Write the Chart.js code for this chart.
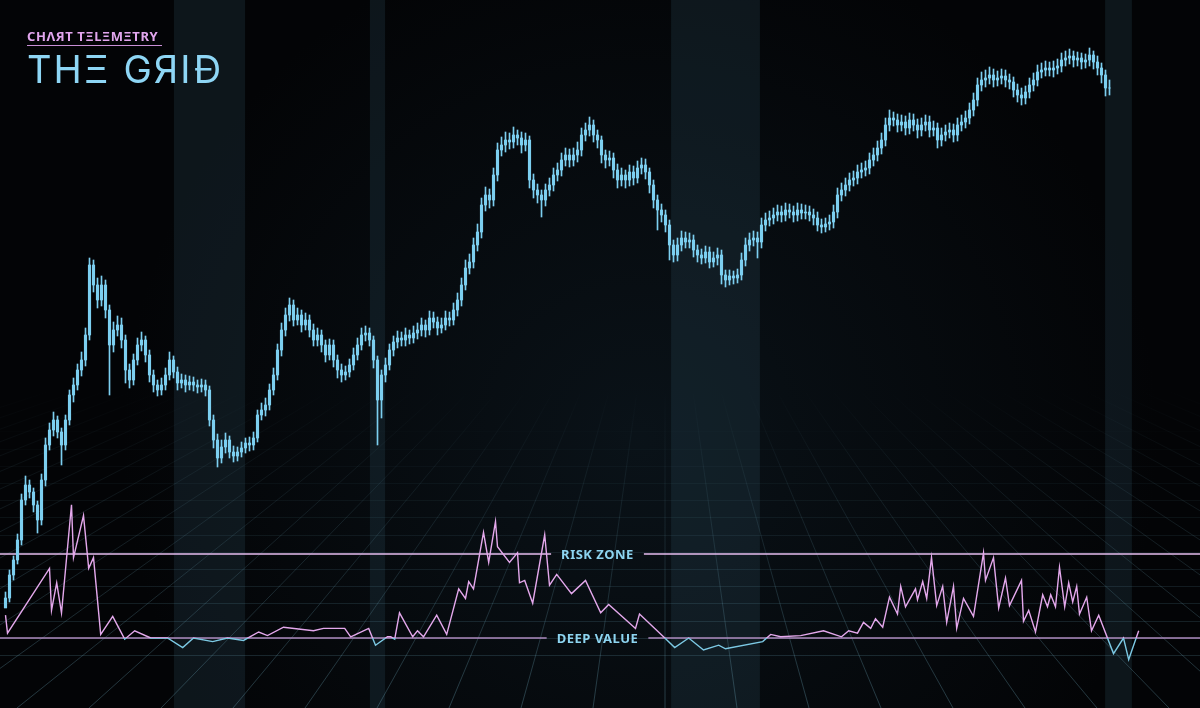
<!DOCTYPE html>
<html>
<head>
<meta charset="utf-8">
<script src="https://cdn.jsdelivr.net/npm/chart.js@4.4.1/dist/chart.umd.min.js"></script>
<style>
  html, body { margin: 0; padding: 0; background: #030406; }
  #wrap { position: relative; width: 1200px; height: 708px; overflow: hidden; }
  #chart { position: absolute; left: 0; top: 0; }
  #logo { position: absolute; left: 27px; top: 27px; }
  #logo .sub {
    display: inline-block;
    font-family: "Noto Sans", sans-serif; font-weight: 700; font-size: 13px;
    letter-spacing: 0.6px; color: #e2a6ee; line-height: 15px;
    border-bottom: 1.5px solid #c98fd6; padding-right: 4px; padding-bottom: 1px;
  }
  #logo .title {
    font-family: "Inter", sans-serif; font-weight: 400; font-size: 38px;
    letter-spacing: 2px; color: #8ed6f5; line-height: 40px; margin-top: 3px;
  }
</style>
</head>
<body>
<div id="wrap">
  <canvas id="chart" width="1200" height="708"></canvas>
  <div id="logo">
    <div class="sub">CHΛЯT TΞLΞMΞTRY</div>
    <div class="title">THΞ GЯIĐ</div>
  </div>
</div>
<script>
// Świece: zamknięcia, maksima, minima (otwarcie = poprzednie zamknięcie)
const firstOpen = 100;
const closes = [
  110,133,148,168,208,223,216,203,188,228, 263,278,288,276,263,288,313,323,338,348,
  373,443,423,408,423,398,363,378,383,368, 338,328,348,363,368,353,333,323,318,323,
  333,348,336,325,328,323,326,323,321,323, 318,288,268,250,261,268,256,252,256,260,
  265,263,270,293,298,303,318,333,358,378, 393,403,388,393,383,388,378,368,373,363,
  353,363,348,338,333,336,343,353,363,373, 375,368,348,308,333,343,358,366,370,368,
  373,370,375,378,383,378,390,386,380,383, 390,388,398,408,423,440,446,463,476,503,
  513,508,533,558,563,568,566,573,570,563, 568,528,518,513,508,518,523,533,538,548,
  553,548,553,558,573,578,583,573,568,553, 548,550,538,528,533,528,536,530,540,543,
  536,523,508,498,493,483,463,453,463,470, 466,468,458,453,450,456,446,450,453,433,
  428,432,430,433,448,463,468,470,466,483, 488,490,493,496,493,498,496,493,498,495,
  496,493,490,483,481,484,486,496,513,518, 523,528,530,536,538,540,548,553,560,568,
  583,590,588,583,586,580,588,583,578,583, 586,578,580,568,573,576,578,573,583,586,
  590,598,608,623,628,630,633,628,630,632, 628,626,618,613,610,616,623,628,636,638,
  640,638,640,642,648,650,652,648,650,646, 648,653,646,640,633,620,620
];
const highs = [
  116,138,152,174,214,232,228,220,207,234, 270,285,296,292,280,293,318,330,344,356,
  380,450,448,430,432,428,403,386,392,390, 373,344,354,370,376,372,358,338,328,330,
  340,356,352,341,334,333,332,331,328,329, 328,322,293,274,268,275,272,262,261,266,
  270,271,276,298,305,310,324,340,364,385, 400,410,408,400,398,395,393,384,380,378,
  368,369,368,353,344,342,349,360,370,380, 382,380,372,352,338,350,364,372,377,376,
  380,378,382,385,390,388,397,396,391,390, 397,396,405,415,430,448,454,470,484,510,
  521,519,540,565,571,576,575,581,578,576, 575,572,534,524,518,524,530,540,545,555,
  560,559,560,566,580,585,591,588,578,572, 558,557,555,544,540,538,543,542,547,550,
  549,540,528,513,504,498,488,468,470,477, 476,475,473,463,459,462,461,456,460,458,
  438,438,437,439,455,470,475,477,476,490, 495,497,500,503,502,505,504,502,505,504,
  503,502,499,496,489,490,493,503,520,525, 530,535,537,543,545,547,555,560,567,575,
  590,598,596,594,593,592,595,594,589,590, 593,592,587,585,580,583,585,584,590,593,
  597,605,615,630,636,638,641,639,637,639, 638,634,631,624,620,622,630,635,643,645,
  647,646,647,649,655,657,659,657,656,655, 654,660,657,652,645,638,628
];
const lows = [
  103,106,128,144,163,203,210,196,175,183, 222,258,272,270,243,258,283,306,318,332,
  342,368,416,400,402,390,313,356,372,360, 325,320,323,343,357,346,326,316,312,313,
  318,328,330,318,320,316,318,317,315,316, 312,282,260,241,245,255,250,246,247,251,
  255,257,258,266,288,292,298,313,328,352, 372,387,382,383,376,378,371,362,362,356,
  346,348,341,330,326,328,331,338,348,358, 367,362,340,263,290,326,338,352,360,362,
  362,364,365,369,372,371,373,380,373,375, 378,382,383,392,402,418,434,440,457,470,
  497,500,502,527,552,556,559,560,563,555, 557,520,510,505,491,502,512,517,527,532,
  542,541,542,546,552,567,572,566,560,545, 540,542,530,520,522,520,522,523,525,534,
  529,515,500,478,486,476,448,446,447,457, 460,460,451,446,444,445,440,441,443,424,
  421,423,424,425,428,442,457,462,450,460, 477,482,484,487,486,487,490,486,487,489,
  489,487,483,477,475,476,478,480,490,507, 512,517,522,524,530,532,534,542,547,554,
  562,577,582,576,577,573,574,577,570,572, 577,571,572,560,562,567,570,566,567,577,
  580,584,592,602,617,621,624,621,622,624, 621,619,611,606,603,604,610,617,622,630,
  632,632,631,634,636,642,644,641,642,639, 640,642,639,633,625,612,613
];

// Oscylator (dzień na osi świec, wartość wskaźnika)
const oscDays = [
  0,0.5,11,11.5,12.8,14,16.5,17,19.5,20.8, 22,23.8,26.8,29.8,32.3,36.3,40.5,44.3,47,51.8,
  55.5,59.5,63.3,65.5,69.5,77,79.5,84.8,86.3,90.8, 92.5,95.5,96.3,97.3,98.5,101.8,103,104.5,107.8,110.3,
  113.3,115,115.8,117,119.5,120.8,122.5,123,126,128, 128.5,129.8,131.8,134.8,136,137.8,141.5,145,148.8,150.8,
  157.5,158.5,164.5,167.3,170.8,174.5,178.3,180,189.3,191.3, 193.8,198.8,204.5,209,210.8,213,214.5,216.3,217.5,219.3,
  221,223,223.8,225,227.5,228,229.3,230.3,231.5,232.8, 234.3,235.3,237,237.8,239.5,242,244.5,245,247,248.3,
  250,251,254,254.5,255.8,257.5,259.3,260.5,261.3,262.5, 263.5,264.8,265.8,266.8,267.8,268.5,270.3,271.5,273.3,277,
  279.5,280.8,283.3
];
const oscValues = [
  1.9,0.4,5.8,2.3,4.6,2.1,11.1,6.7,10.2,5.8, 6.7,0.3,1.8,-0.1,0.6,0,0,-0.8,0,-0.3,
  0,-0.2,0.5,0.2,0.9,0.6,0.8,0.8,0.1,0.8, -0.6,0.1,0.1,-0.1,2.1,0.1,0.6,0.1,1.9,0.3,
  4.1,3.3,4.7,4.1,8.8,6.3,9.7,7.6,6.3,7.1, 4.6,4.8,2.9,8.6,4.4,5.3,3.7,4.8,2.1,2.8,
  0.8,2.0,0.1,-0.8,0,-1.0,-0.6,-0.9,-0.3,0.3, 0.1,0.2,0.6,0.1,0.6,0.4,1.3,0.8,1.6,0.9,
  3.4,2.0,4.3,2.6,4.1,3.2,4.7,3.3,6.7,2.7, 4.3,1.3,4.3,0.8,3.3,1.8,7.1,4.8,6.7,2.5,
  5.0,2.7,4.8,1.4,2.3,0.5,3.6,2.6,3.6,2.6, 5.9,2.6,4.6,3.0,4.3,2.0,3.4,0.6,1.9,-1.3,
  0,-1.8,0.6
];

// Zaznaczone okresy (od-do, w dniach)
const bandStarts = [42.1, 91.1, 166.4, 274.9];
const bandEnds = [59.9, 94.9, 188.6, 281.6];

// Poziomy stref oscylatora
const zoneLevels = [7, 0];
const zoneLabels = ['RISK ZONE', 'DEEP VALUE'];
const zoneColors = ['#e6bdf0', '#ad8abf'];
const zoneLabelDay = 148;

const CANDLE = '#7ccff0';
const PINK = '#e4a8ec';
const BLUE = '#7cc9e4';

const wicks = closes.map((c, i) => ({ x: i, y: [lows[i], highs[i]] }));
const bodies = closes.map((c, i) => ({ x: i, y: [i === 0 ? firstOpen : closes[i - 1], c] }));
const osc = oscDays.map((d, i) => ({ x: d, y: oscValues[i] }));

function oscGradient(context) {
  const chart = context.chart;
  const area = chart.chartArea;
  if (!area) return PINK;
  const y0 = chart.scales.osc.getPixelForValue(zoneLevels[1]);
  const t = Math.min(1, Math.max(0, (y0 - area.top) / (area.bottom - area.top)));
  const g = chart.ctx.createLinearGradient(0, area.top, 0, area.bottom);
  g.addColorStop(0, PINK);
  g.addColorStop(t, PINK);
  g.addColorStop(t, BLUE);
  g.addColorStop(1, BLUE);
  return g;
}

// Tło, pasy, siatka perspektywiczna i linie stref
const backdrop = {
  id: 'backdrop',
  beforeDatasetsDraw(chart) {
    const { ctx, chartArea: a, scales } = chart;
    ctx.save();
    ctx.fillStyle = '#030406';
    ctx.fillRect(0, 0, chart.width, chart.height);
    const glow = ctx.createRadialGradient(640, 440, 0, 640, 440, 520);
    glow.addColorStop(0, 'rgba(28,55,72,0.28)');
    glow.addColorStop(1, 'rgba(28,55,72,0)');
    ctx.fillStyle = glow;
    ctx.fillRect(0, 0, chart.width, chart.height);

    ctx.fillStyle = 'rgba(45,80,95,0.24)';
    bandStarts.forEach((s, i) => {
      const x0 = scales.x.getPixelForValue(s);
      const x1 = scales.x.getPixelForValue(bandEnds[i]);
      ctx.fillRect(x0, a.top, x1 - x0, a.bottom - a.top);
    });

    ctx.lineWidth = 1;
    for (let k = 0; k < 14; k++) {
      const y = Math.round(655 - k * 17.2) + 0.5;
      const alpha = 0.2 * Math.max(0, 1 - k / 14);
      ctx.strokeStyle = 'rgba(110,170,190,' + alpha + ')';
      ctx.beginPath();
      ctx.moveTo(a.left, y);
      ctx.lineTo(a.right, y);
      ctx.stroke();
    }
    const vx = 665, vy = 190, top = 390;
    const rg = ctx.createLinearGradient(0, top, 0, a.bottom);
    rg.addColorStop(0, 'rgba(110,170,190,0)');
    rg.addColorStop(1, 'rgba(110,170,190,0.32)');
    ctx.strokeStyle = rg;
    const t0 = (top - vy) / (a.bottom - vy);
    for (let k = -22; k <= 22; k++) {
      const bx = vx + k * 72;
      ctx.beginPath();
      ctx.moveTo(vx + (bx - vx) * t0, top);
      ctx.lineTo(bx, a.bottom);
      ctx.stroke();
    }

    ctx.font = '700 13px "Noto Sans", sans-serif';
    ctx.letterSpacing = '0.5px';
    const lx = scales.x.getPixelForValue(zoneLabelDay);
    zoneLevels.forEach((lvl, i) => {
      const y = scales.osc.getPixelForValue(lvl);
      const half = ctx.measureText(zoneLabels[i]).width / 2 + 10;
      ctx.strokeStyle = zoneColors[i];
      ctx.lineWidth = 1.6;
      ctx.beginPath();
      ctx.moveTo(a.left, y);
      ctx.lineTo(lx - half, y);
      ctx.moveTo(lx + half, y);
      ctx.lineTo(a.right, y);
      ctx.stroke();
    });
    ctx.restore();
  },
  afterDatasetsDraw(chart) {
    const { ctx, scales } = chart;
    ctx.save();
    ctx.font = '700 13px "Noto Sans", sans-serif';
    ctx.letterSpacing = '0.5px';
    ctx.fillStyle = '#8dd4f0';
    ctx.textAlign = 'center';
    ctx.textBaseline = 'middle';
    const lx = scales.x.getPixelForValue(zoneLabelDay);
    zoneLevels.forEach((lvl, i) => {
      ctx.fillText(zoneLabels[i], lx, scales.osc.getPixelForValue(lvl) + 1);
    });
    ctx.restore();
  }
};

new Chart(document.getElementById('chart'), {
  type: 'bar',
  data: {
    datasets: [
      {
        type: 'line',
        data: osc,
        yAxisID: 'osc',
        borderColor: oscGradient,
        borderWidth: 1.4,
        pointRadius: 0,
        tension: 0,
        order: 0
      },
      {
        data: wicks,
        yAxisID: 'price',
        backgroundColor: CANDLE,
        barThickness: 1,
        grouped: false,
        order: 2
      },
      {
        data: bodies,
        yAxisID: 'price',
        backgroundColor: CANDLE,
        barThickness: 2.5,
        grouped: false,
        order: 1
      }
    ]
  },
  options: {
    responsive: false,
    animation: false,
    devicePixelRatio: 1,
    layout: { padding: 0 },
    plugins: { legend: { display: false }, tooltip: { enabled: false } },
    scales: {
      x: { type: 'linear', min: -1.375, max: 298.625, offset: false, display: false },
      price: { type: 'linear', position: 'left', min: 0, max: 708, display: false },
      osc: { type: 'linear', position: 'right', min: -70 / 12, max: 638 / 12, display: false }
    }
  },
  plugins: [backdrop]
});
</script>
</body>
</html>
